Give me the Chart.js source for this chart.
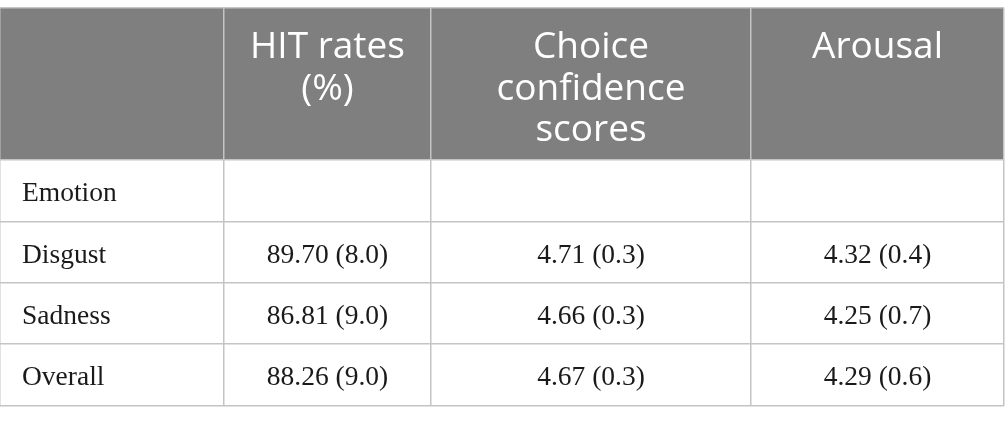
<!DOCTYPE html>
<html lang="en">
<head>
  <meta charset="UTF-8">
  <title>HIT rates, choice confidence and arousal</title>
  <script src="https://cdn.jsdelivr.net/npm/chart.js"></script>
  <style>
    body {
      margin: 0;
      background: #fff;
    }
    .table-wrap {
      width: 1005px;
      height: 421px;
    }
  </style>
</head>
<body>

<div class="table-wrap">
  <canvas id="tableChart" width="1005" height="421"></canvas>
</div>

<script>
// header text, one array of lines per column
const headerLines = [
  [],
  ['HIT rates', '(%)'],
  ['Choice', 'confidence', 'scores'],
  ['Arousal']
];

// row labels (first one is a sub-heading with empty cells)
const rowLabels = ['Emotion', 'Disgust', 'Sadness', 'Overall'];

// means and SDs per column, null = empty cell
const hitMean = [null, 89.70, 86.81, 88.26];
const hitSD = [null, 8.0, 9.0, 9.0];
const confMean = [null, 4.71, 4.66, 4.67];
const confSD = [null, 0.3, 0.3, 0.3];
const arousalMean = [null, 4.32, 4.25, 4.29];
const arousalSD = [null, 0.4, 0.7, 0.6];

// table layout: column and row edges in scale units
const colEdges = [0, 224, 431, 751, 1004];
const rowEdges = [0, 152, 214, 275, 336, 398];

const headerColor = '#7f7f7f';
const lineColor = '#c4c4c4';

function fmt(m, sd) {
  if (m === null) return '';
  return m.toFixed(2) + ' (' + sd.toFixed(1) + ')';
}

const bodyText = rowLabels.map((label, i) => [
  label,
  fmt(hitMean[i], hitSD[i]),
  fmt(confMean[i], confSD[i]),
  fmt(arousalMean[i], arousalSD[i])
]);

// one invisible point per cell centre, the plugin writes the text there
const cellPoints = [];
bodyText.forEach((row, r) => {
  row.forEach((txt, c) => {
    cellPoints.push({
      x: (colEdges[c] + colEdges[c + 1]) / 2,
      y: (rowEdges[r + 1] + rowEdges[r + 2]) / 2,
      text: txt,
      col: c
    });
  });
});
const headerPoints = headerLines.map((lines, c) => ({
  x: (colEdges[c] + colEdges[c + 1]) / 2,
  y: rowEdges[0],
  lines
}));

const tablePlugin = {
  id: 'tablePlugin',
  beforeDraw(chart) {
    const { ctx, scales: { x, y } } = chart;
    ctx.save();
    ctx.fillStyle = headerColor;
    const top = y.getPixelForValue(rowEdges[0]);
    const bot = y.getPixelForValue(rowEdges[1]);
    ctx.fillRect(x.getPixelForValue(colEdges[0]), top,
      x.getPixelForValue(colEdges[colEdges.length - 1]) - x.getPixelForValue(colEdges[0]), bot - top);
    ctx.restore();
  },
  afterDatasetsDraw(chart) {
    const { ctx, scales: { x, y } } = chart;
    ctx.save();

    // header
    ctx.fillStyle = '#ffffff';
    ctx.font = '37px "Open Sans", sans-serif';
    ctx.textAlign = 'center';
    ctx.textBaseline = 'alphabetic';
    const headMeta = chart.getDatasetMeta(1);
    headMeta.data.forEach((el, i) => {
      headerPoints[i].lines.forEach((line, k) => {
        ctx.fillText(line, el.x, el.y + 50 + k * 41.5);
      });
    });

    // body
    ctx.fillStyle = '#1a1a1a';
    ctx.font = '27.5px "Liberation Serif", "DejaVu Serif", serif';
    const bodyMeta = chart.getDatasetMeta(0);
    bodyMeta.data.forEach((el, i) => {
      const p = cellPoints[i];
      if (p.col === 0) {
        ctx.textAlign = 'left';
        ctx.fillText(p.text, x.getPixelForValue(colEdges[0]) + 22, el.y + 10);
      } else {
        ctx.textAlign = 'center';
        ctx.fillText(p.text, el.x, el.y + 10);
      }
    });
    ctx.restore();
  }
};

new Chart(document.getElementById('tableChart'), {
  type: 'scatter',
  data: {
    datasets: [
      { data: cellPoints, pointRadius: 0, pointHoverRadius: 0 },
      { data: headerPoints, pointRadius: 0, pointHoverRadius: 0 }
    ]
  },
  options: {
    responsive: false,
    animation: false,
    events: [],
    layout: { padding: { left: 0, top: 8, right: 1, bottom: 15 } },
    plugins: {
      legend: { display: false },
      tooltip: { enabled: false }
    },
    scales: {
      x: {
        type: 'linear',
        min: colEdges[0],
        max: colEdges[colEdges.length - 1],
        afterBuildTicks: (scale) => { scale.ticks = colEdges.map(v => ({ value: v })); },
        ticks: { display: false },
        grid: { color: lineColor, lineWidth: 1.5, drawTicks: false },
        border: { display: false }
      },
      y: {
        type: 'linear',
        reverse: true,
        min: rowEdges[0],
        max: rowEdges[rowEdges.length - 1],
        afterBuildTicks: (scale) => { scale.ticks = rowEdges.map(v => ({ value: v })); },
        ticks: { display: false },
        grid: { color: lineColor, lineWidth: 1.5, drawTicks: false },
        border: { display: false }
      }
    }
  },
  plugins: [tablePlugin]
});
</script>
</body>
</html>
